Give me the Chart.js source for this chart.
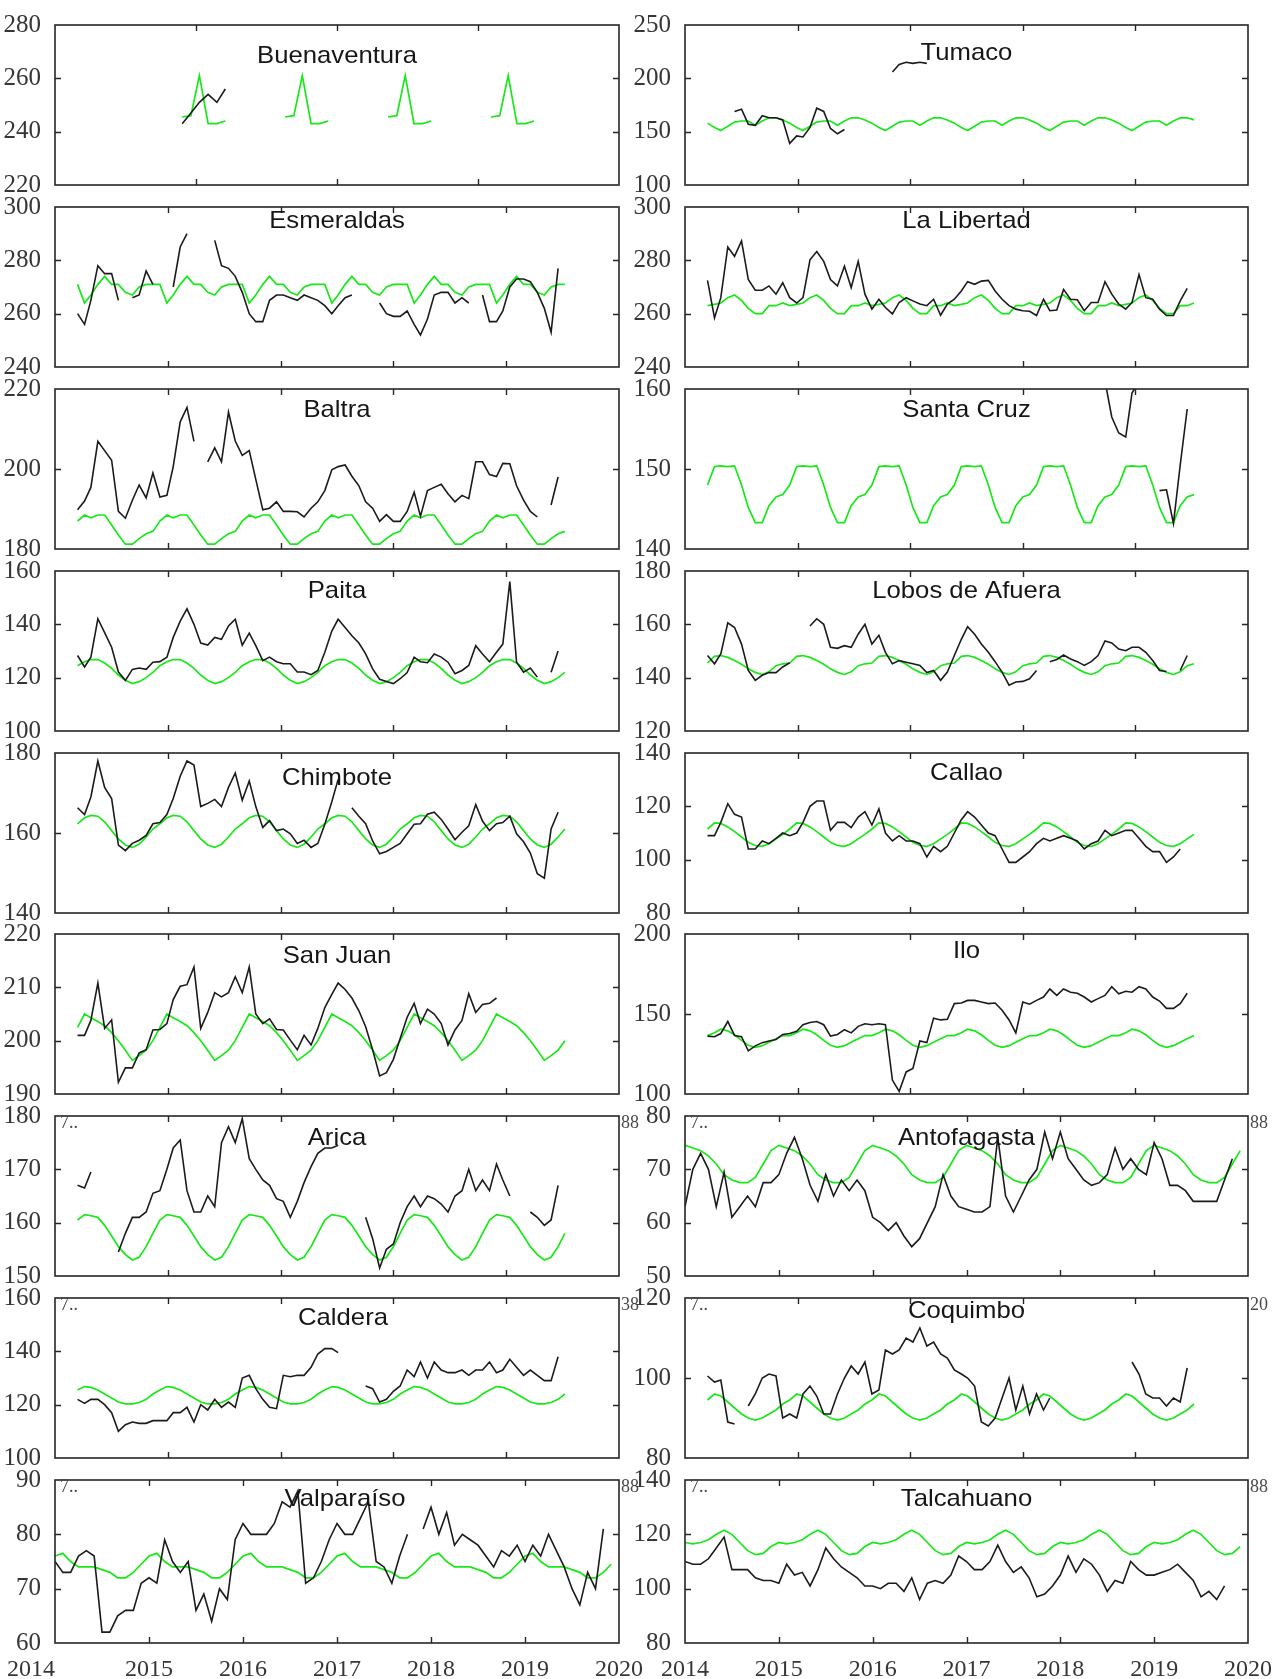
<!DOCTYPE html>
<html lang="es">
<head>
<meta charset="utf-8">
<title>Nivel medio mensual del mar</title>
<script src="https://cdn.jsdelivr.net/npm/chart.js@4.4.1/dist/chart.umd.min.js"></script>
<style>
  html, body { margin: 0; padding: 0; background: #ffffff; }
  body { position: relative; width: 1272px; height: 1679px; overflow: hidden; }
  canvas { position: absolute; }
</style>
</head>
<body>
<script>
// Monthly sea level per tide gauge. Month index 0 = January 2014; null = missing month.
// "Obs" = observed monthly mean (black), "Clim" = mean seasonal cycle (green).

const yearLabels = [2014, 2015, 2016, 2017, 2018, 2019, 2020];

// ---- Buenaventura ----
const buenaventuraY = [220, 280, 20];
const buenaventuraObsStart = 28;
const buenaventuraObs = [243, 247, 251, 254, 251, 256];
const buenaventuraClimStart = 28;
const buenaventuraClim = [
  245.5, 246, 261, 243, 243, 244, null, null, null, null, null, null,
  245.5, 246, 261, 243, 243, 244, null, null, null, null, null, null,
  245.5, 246, 261, 243, 243, 244, null, null, null, null, null, null,
  245.5, 246, 261, 243, 243, 244];

// ---- Tumaco ----
const tumacoY = [100, 250, 50];
const tumacoObsStart = 4;
const tumacoObs = [169, 171, 157, 156, 165, 163, 163, 161, 139, 146, 145, 154, 172, 169, 153, 148, 152,
  null, null, null, null, null, null, 206, 213, 215, 214, 215, 214];
const tumacoClimStart = 0;
const tumacoClim = [
  158, 154, 151, 155, 159, 160, 160, 156, 160, 163, 163, 161,
  158, 154, 151, 155, 159, 160, 160, 156, 160, 163, 163, 161,
  158, 154, 151, 155, 159, 160, 160, 156, 160, 163, 163, 161,
  158, 154, 151, 155, 159, 160, 160, 156, 160, 163, 163, 161,
  158, 154, 151, 155, 159, 160, 160, 156, 160, 163, 163, 161,
  158, 154, 151, 155, 159, 160, 160, 156, 160, 163, 163, 161];

// ---- Esmeraldas ----
const esmeraldasY = [240, 300, 20];
const esmeraldasObsStart = 0;
const esmeraldasObs = [
  260, 256, 265, 278, 275, 275, 265, null, 266, 267, 276, 271, null, null, 270, 285, 290, null, null, null,
  287.5, 278, 277, 274, 268, 260, 257, 257, 265, 267, 267, 266, 265, 267, 266, 265, 263, 260, 263, 266, 267,
  null, null, null,
  264, 260, 259, 259, 261, 256, 252, 258, 267, 268, 268, 264, 266, 264,
  null,
  267, 257, 257, 261, 270, 273, 273, 272, 268, 262, 253, 277];
const esmeraldasClimStart = 0;
const esmeraldasClim = [
  271, 264, 267, 271, 274, 271, 271, 268, 267, 270, 271, 271,
  271, 264, 267, 271, 274, 271, 271, 268, 267, 270, 271, 271,
  271, 264, 267, 271, 274, 271, 271, 268, 267, 270, 271, 271,
  271, 264, 267, 271, 274, 271, 271, 268, 267, 270, 271, 271,
  271, 264, 267, 271, 274, 271, 271, 268, 267, 270, 271, 271,
  271, 264, 267, 271, 274, 271, 271, 268, 267, 270, 271, 271];

// ---- La Libertad ----
const laLibertadY = [240, 300, 20];
const laLibertadObsStart = 0;
const laLibertadObs = [
  272.5, 258.4, 266, 285, 281.5, 287.3, 272.8, 268.8, 268.8, 270.4,
  267.3, 271.6, 266, 264, 266, 280.2, 283.3, 279.6, 272.8, 270.4,
  277.8, 269.8, 279.6, 267.3, 261.7, 265.4, 262.3, 259.9, 264.2, 266,
  264.8, 263.6, 263, 265.4, 259.4, 263.6, 265.4, 268.5, 272, 271,
  272.2, 272.5, 268.5, 265.4, 263, 261.7, 261.1, 260.9, 259.3, 265.4,
  261.1, 261.4, 269.1, 265.4, 265.2, 261.1, 264.2, 264.2, 272, 267.3,
  263.6, 261.7, 264.2, 274.7, 266, 265.4, 261.7, 259.3, 259.3, 264.8,
  269.5];
const laLibertadClimStart = 0;
const laLibertadClim = [
  263, 263.5, 264, 266, 267, 265, 262, 260, 260, 263, 263, 264,
  263, 263.5, 264, 266, 267, 265, 262, 260, 260, 263, 263, 264,
  263, 263.5, 264, 266, 267, 265, 262, 260, 260, 263, 263, 264,
  263, 263.5, 264, 266, 267, 265, 262, 260, 260, 263, 263, 264,
  263, 263.5, 264, 266, 267, 265, 262, 260, 260, 263, 263, 264,
  263, 263.5, 264, 266, 267, 265, 262, 260, 260, 263, 263, 264];

// ---- Baltra ----
const baltraY = [180, 220, 20];
const baltraObsStart = 0;
const baltraObs = [
  189.8, 192, 195.4, 206.9, 204.6, 202.2, 189.4, 187.7, 192.2, 196,
  192.8, 199, 193, 193.4, 200.6, 211.8, 215.4, 206.9, null,
  201.8, 205.3, 201.8, 214.2, 207, 203.4, 204.6, 197.4, 189.8, 190.2,
  191.8, 189.4, 189.4, 189.3, 188, 190.2, 191.8, 194.6, 199.8, 200.6,
  201, 198.2, 195.8, 191.8, 190.2, 186.9, 188.6, 186.9, 186.9, 189.4,
  194.2, 188.2, 194.6, 195.4, 196.2, 193.8, 191.8, 193.4, 192.6, 201.8,
  201.8, 198.6, 198.1, 201.4, 201.3, 195.8, 192.2, 189.4, 188,
  null, 191, 198];
const baltraClimStart = 0;
const baltraClim = [
  187, 188.5, 187.8, 188.5, 188.5, 186, 183.5, 181.2, 181.2, 182.6, 183.8, 184.4,
  187, 188.5, 187.8, 188.5, 188.5, 186, 183.5, 181.2, 181.2, 182.6, 183.8, 184.4,
  187, 188.5, 187.8, 188.5, 188.5, 186, 183.5, 181.2, 181.2, 182.6, 183.8, 184.4,
  187, 188.5, 187.8, 188.5, 188.5, 186, 183.5, 181.2, 181.2, 182.6, 183.8, 184.4,
  187, 188.5, 187.8, 188.5, 188.5, 186, 183.5, 181.2, 181.2, 182.6, 183.8, 184.4,
  187, 188.5, 187.8, 188.5, 188.5, 186, 183.5, 181.2, 181.2, 182.6, 183.8, 184.4];

// ---- Santa Cruz ----
const santaCruzY = [140, 160, 10];
const santaCruzObsStart = 58;
const santaCruzObs = [161, 156.5, 154.5, 154, 159.5, 161, null, null, 147.3, 147.4, 143.2, 150.5, 157.5];
const santaCruzClimStart = 0;
const santaCruzClim = [
  148, 150.3, 150.4, 150.3, 150.4, 148, 145.2, 143.3, 143.3, 145.4, 146.5, 146.8,
  148, 150.3, 150.4, 150.3, 150.4, 148, 145.2, 143.3, 143.3, 145.4, 146.5, 146.8,
  148, 150.3, 150.4, 150.3, 150.4, 148, 145.2, 143.3, 143.3, 145.4, 146.5, 146.8,
  148, 150.3, 150.4, 150.3, 150.4, 148, 145.2, 143.3, 143.3, 145.4, 146.5, 146.8,
  148, 150.3, 150.4, 150.3, 150.4, 148, 145.2, 143.3, 143.3, 145.4, 146.5, 146.8,
  148, 150.3, 150.4, 150.3, 150.4, 148, 145.2, 143.3, 143.3, 145.4, 146.5, 146.8];

// ---- Paita ----
const paitaY = [100, 160, 20];
const paitaObsStart = 0;
const paitaObs = [
  128.3, 124, 127.7, 142.1, 136.9, 131.4, 122.1, 119, 123.1, 123.6,
  123.1, 125.8, 126, 127.7, 135.1, 141.2, 145.8, 140, 133, 132.2,
  135.1, 134.4, 139.4, 141.9, 132.2, 136.7, 132, 126.4, 127.7, 126,
  125.2, 125.2, 122.1, 122.1, 121.1, 122.7, 129.5, 137.5, 141.9, 138.8,
  135.7, 133, 128.9, 123.3, 119.4, 118.6, 117.8, 119.6, 121.9, 127.7,
  126, 125.6, 128.9, 127.7, 125.8, 121.5, 122.7, 124.6, 132, 128.9,
  126, 129.5, 132.6, 156, 125.8, 122.1, 123.6, 120.2,
  null, 122, 130];
const paitaClimStart = 0;
const paitaClim = [
  124.5, 126, 126.8, 126.8, 125.5, 123.5, 121, 119, 117.8, 118.5, 120, 122,
  124.5, 126, 126.8, 126.8, 125.5, 123.5, 121, 119, 117.8, 118.5, 120, 122,
  124.5, 126, 126.8, 126.8, 125.5, 123.5, 121, 119, 117.8, 118.5, 120, 122,
  124.5, 126, 126.8, 126.8, 125.5, 123.5, 121, 119, 117.8, 118.5, 120, 122,
  124.5, 126, 126.8, 126.8, 125.5, 123.5, 121, 119, 117.8, 118.5, 120, 122,
  124.5, 126, 126.8, 126.8, 125.5, 123.5, 121, 119, 117.8, 118.5, 120, 122];

// ---- Lobos de Afuera ----
const lobosY = [120, 180, 20];
const lobosObsStart = 0;
const lobosObs = [
  148.3, 145.2, 148.9, 160.6, 158.8, 152.6, 142.7, 139, 140.9, 141.9, 141.9, 144, 145.6,
  null, null,
  159.4, 162.1, 160, 151.4, 151, 152, 151.4, 156.3, 160, 152.6,
  155.9, 149.5, 145.2, 146.4, 145.8, 145.2, 144.6, 141.9, 142.7, 139,
  142.1, 148.3, 154.4, 159.1, 156.3, 152.6, 149.5, 146, 142.1, 137.2,
  138.4, 138.6, 139.6, 142.7,
  null,
  146, 146.8, 148.5, 147, 146, 144.6, 146, 148.3, 153.8, 153,
  150.7, 150.1, 151.4, 151.4, 149.5, 146.4, 142.7, 142.3,
  null, 142.7, 148.3];
const lobosClimStart = 0;
const lobosClim = [
  145.5, 148, 148.3, 147.6, 146.4, 145, 143.3, 142, 141.2, 142.2, 144.5, 145.2,
  145.5, 148, 148.3, 147.6, 146.4, 145, 143.3, 142, 141.2, 142.2, 144.5, 145.2,
  145.5, 148, 148.3, 147.6, 146.4, 145, 143.3, 142, 141.2, 142.2, 144.5, 145.2,
  145.5, 148, 148.3, 147.6, 146.4, 145, 143.3, 142, 141.2, 142.2, 144.5, 145.2,
  145.5, 148, 148.3, 147.6, 146.4, 145, 143.3, 142, 141.2, 142.2, 144.5, 145.2,
  145.5, 148, 148.3, 147.6, 146.4, 145, 143.3, 142, 141.2, 142.2, 144.5, 145.2];

// ---- Chimbote ----
const chimboteY = [140, 180, 20];
const chimboteObsStart = 0;
const chimboteObs = [
  166.3, 164.6, 169, 178, 171.4, 168.6, 157, 155.6, 157.4, 158.2,
  159.4, 162.3, 162.6, 164.6, 168.6, 174.2, 178, 177, 166.6, 167.4,
  168.4, 166.6, 171.4, 175, 168.2, 173, 166.6, 161.4, 163.1, 160.6,
  161, 159.8, 157.4, 158.2, 156.4, 157.4, 162.2, 167.8, 173.4,
  null,
  166.3, 164.2, 162.3, 158, 154.8, 155.4, 156.4, 157.4, 159.8, 162.2,
  162.3, 164.7, 165.2, 163.4, 161, 158.3, 160.2, 161.8, 167.1, 163,
  160.6, 162.3, 162.6, 164.2, 159.8, 157.8, 155, 149.8, 148.7, 161,
  165.2];
const chimboteClimStart = 0;
const chimboteClim = [
  162.3, 163.8, 164.4, 164.2, 162.8, 160.6, 158.5, 157, 156.4, 157.2, 159, 161,
  162.3, 163.8, 164.4, 164.2, 162.8, 160.6, 158.5, 157, 156.4, 157.2, 159, 161,
  162.3, 163.8, 164.4, 164.2, 162.8, 160.6, 158.5, 157, 156.4, 157.2, 159, 161,
  162.3, 163.8, 164.4, 164.2, 162.8, 160.6, 158.5, 157, 156.4, 157.2, 159, 161,
  162.3, 163.8, 164.4, 164.2, 162.8, 160.6, 158.5, 157, 156.4, 157.2, 159, 161,
  162.3, 163.8, 164.4, 164.2, 162.8, 160.6, 158.5, 157, 156.4, 157.2, 159, 161];

// ---- Callao ----
const callaoY = [80, 140, 20];
const callaoObsStart = 0;
const callaoObs = [
  109, 109, 114, 121, 117, 116, 104, 104, 107, 106,
  108, 110, 109, 110, 114, 120, 122, 122, 111, 114,
  114, 112, 116, 118, 113, 119, 110, 107, 109, 107,
  107, 106, 101, 105, 103, 105, 110, 115, 118, 116,
  113, 110, 109, 104, 99, 99, 101, 103, 106, 108,
  107, 108, 109, 108, 107, 104, 106, 107, 111, 109,
  110, 111, 111, 108, 105, 103, 103, 99, 101, 104];
const callaoClimStart = 0;
const callaoClim = [
  111.5, 113.8, 113.6, 112.3, 110.5, 108.5, 106.5, 105.3, 105, 106, 107.8, 109.5,
  111.5, 113.8, 113.6, 112.3, 110.5, 108.5, 106.5, 105.3, 105, 106, 107.8, 109.5,
  111.5, 113.8, 113.6, 112.3, 110.5, 108.5, 106.5, 105.3, 105, 106, 107.8, 109.5,
  111.5, 113.8, 113.6, 112.3, 110.5, 108.5, 106.5, 105.3, 105, 106, 107.8, 109.5,
  111.5, 113.8, 113.6, 112.3, 110.5, 108.5, 106.5, 105.3, 105, 106, 107.8, 109.5,
  111.5, 113.8, 113.6, 112.3, 110.5, 108.5, 106.5, 105.3, 105, 106, 107.8, 109.5];

// ---- San Juan ----
const sanJuanY = [190, 220, 10];
const sanJuanObsStart = 0;
const sanJuanObs = [
  201, 201, 203.8, 210.8, 202.3, 203.9, 192.2, 194.9, 194.9, 197.7,
  198.3, 202, 202.1, 203.2, 207.7, 210.2, 210.5, 213.8, 202.3, 205.3,
  209, 208.2, 209, 212, 209, 213.8, 205, 203.2, 204.1, 202.1,
  202, 200.1, 198.3, 201, 199.2, 202.3, 206.2, 208.7, 210.8, 209.6,
  208, 205.6, 202.6, 198.3, 193.4, 194, 196.5, 200.4, 204.4, 207,
  203.2, 205.9, 205, 203.2, 199.2, 202, 203.8, 208.8, 205.3, 206.8,
  207, 208];
const sanJuanClimStart = 0;
const sanJuanClim = [
  202.5, 205, 204.3, 203.6, 202.8, 201.5, 200, 198.2, 196.3, 197.2, 198.2, 200,
  202.5, 205, 204.3, 203.6, 202.8, 201.5, 200, 198.2, 196.3, 197.2, 198.2, 200,
  202.5, 205, 204.3, 203.6, 202.8, 201.5, 200, 198.2, 196.3, 197.2, 198.2, 200,
  202.5, 205, 204.3, 203.6, 202.8, 201.5, 200, 198.2, 196.3, 197.2, 198.2, 200,
  202.5, 205, 204.3, 203.6, 202.8, 201.5, 200, 198.2, 196.3, 197.2, 198.2, 200,
  202.5, 205, 204.3, 203.6, 202.8, 201.5, 200, 198.2, 196.3, 197.2, 198.2, 200];

// ---- Ilo ----
const iloY = [100, 200, 50];
const iloObsStart = 0;
const iloObs = [
  136.2, 135.8, 137.8, 145.3, 136.6, 135.8, 127, 130.1, 132.1, 133.1,
  134.1, 137.2, 137.8, 139.2, 143.3, 144.7, 145.3, 143.3, 136.2, 137.2,
  140.2, 138.2, 142.3, 143.9, 143.3, 143.9, 143.3, 108.7, 101.6, 113.8,
  115.9, 133.1, 132.1, 147.4, 146.3, 146.7, 156.5, 156.9, 158.5, 158.5,
  157.5, 156.5, 156.9, 152.4, 146.3, 138.2, 157.5, 156.1, 158.5, 160.6,
  165.6, 161.6, 165.6, 163.6, 163, 160.6, 157.5, 159.6, 161.6, 167.1,
  162.6, 164.2, 163.6, 167.1, 165.6, 160.6, 158.1, 153.5, 153.5, 156.5,
  163];
const iloClimStart = 0;
const iloClim = [
  136.5, 138.3, 140.5, 139.5, 137, 133.5, 130.5, 129.2, 130.2, 132.3, 134.5, 136.5,
  136.5, 138.3, 140.5, 139.5, 137, 133.5, 130.5, 129.2, 130.2, 132.3, 134.5, 136.5,
  136.5, 138.3, 140.5, 139.5, 137, 133.5, 130.5, 129.2, 130.2, 132.3, 134.5, 136.5,
  136.5, 138.3, 140.5, 139.5, 137, 133.5, 130.5, 129.2, 130.2, 132.3, 134.5, 136.5,
  136.5, 138.3, 140.5, 139.5, 137, 133.5, 130.5, 129.2, 130.2, 132.3, 134.5, 136.5,
  136.5, 138.3, 140.5, 139.5, 137, 133.5, 130.5, 129.2, 130.2, 132.3, 134.5, 136.5];

// ---- Arica ----
const aricaY = [150, 180, 10];
const aricaObsStart = 0;
const aricaObs = [
  167, 166.5, 169.5, null, null, null,
  154.5, 158, 161, 161, 162, 165.5, 166, 170, 174, 175.5,
  166, 162, 162, 165, 163, 175, 178, 175, 179.5, 172,
  170, 168, 167, 164.5, 164, 161, 164, 167.5, 170.5, 173,
  174, 174, 174.5,
  null, null, null,
  161, 157, 151.5, 155, 156, 160, 163, 165, 163, 165,
  164.5, 163.5, 162, 165, 166, 170, 166, 168, 166, 171,
  168, 165,
  null, null,
  162, 161, 159.5, 160.5, 167];
const aricaClimStart = 0;
const aricaClim = [
  160.5, 161.5, 161.3, 161, 159.5, 157.5, 155.5, 154, 153, 153.5, 155.5, 158,
  160.5, 161.5, 161.3, 161, 159.5, 157.5, 155.5, 154, 153, 153.5, 155.5, 158,
  160.5, 161.5, 161.3, 161, 159.5, 157.5, 155.5, 154, 153, 153.5, 155.5, 158,
  160.5, 161.5, 161.3, 161, 159.5, 157.5, 155.5, 154, 153, 153.5, 155.5, 158,
  160.5, 161.5, 161.3, 161, 159.5, 157.5, 155.5, 154, 153, 153.5, 155.5, 158,
  160.5, 161.5, 161.3, 161, 159.5, 157.5, 155.5, 154, 153, 153.5, 155.5, 158];

// ---- Antofagasta ----
const antofagastaY = [50, 80, 10];
const antofagastaObsStart = 0;
const antofagastaObs = [
  63, 70, 73, 70, 63, 69.5, 61, 63, 65, 63,
  67.5, 67.5, 69, 73, 76, 72, 67, 64, 69, 65,
  68, 66, 68, 66, 61, 60, 58.5, 60, 57.5, 55.5,
  57, 60, 63, 69, 65, 63, 62.5, 62, 62, 63,
  76, 65, 62, 65, 68, 70, 77, 72, 77, 72,
  70, 68, 67, 67.5, 69, 74, 70, 72, 70, 69,
  75, 72, 67, 67, 66, 64, 64, 64, 64, 68, 72];
const antofagastaClimStart = 0;
const antofagastaClim = [
  74.5, 74, 73.5, 72.5, 71, 69, 68, 67.5, 67.5, 68.5, 71, 73.5,
  74.5, 74, 73.5, 72.5, 71, 69, 68, 67.5, 67.5, 68.5, 71, 73.5,
  74.5, 74, 73.5, 72.5, 71, 69, 68, 67.5, 67.5, 68.5, 71, 73.5,
  74.5, 74, 73.5, 72.5, 71, 69, 68, 67.5, 67.5, 68.5, 71, 73.5,
  74.5, 74, 73.5, 72.5, 71, 69, 68, 67.5, 67.5, 68.5, 71, 73.5,
  74.5, 74, 73.5, 72.5, 71, 69, 68, 67.5, 67.5, 68.5, 71, 73.5];

// ---- Caldera ----
const calderaY = [100, 160, 20];
const calderaObsStart = 0;
const calderaObs = [
  122, 120.5, 122, 122, 120, 117, 110, 112.5, 113.5, 113,
  113, 114, 114, 114, 117, 117, 119, 113.5, 120, 118,
  122, 119, 121, 119, 130, 131, 126, 122, 119, 118.5,
  131, 130.5, 131, 131, 134, 139, 141, 141, 139.5,
  null, null, null,
  127, 126, 121, 122, 125, 127, 133, 130.5, 136, 130,
  136, 133, 132, 132, 133, 131, 133, 133, 136, 132,
  133, 137, 134, 131, 133, 131, 129, 129, 138];
const calderaClimStart = 0;
const calderaClim = [
  125.5, 126.8, 126.5, 125.5, 124, 122.5, 121, 120.3, 120.3, 120.8, 122, 124,
  125.5, 126.8, 126.5, 125.5, 124, 122.5, 121, 120.3, 120.3, 120.8, 122, 124,
  125.5, 126.8, 126.5, 125.5, 124, 122.5, 121, 120.3, 120.3, 120.8, 122, 124,
  125.5, 126.8, 126.5, 125.5, 124, 122.5, 121, 120.3, 120.3, 120.8, 122, 124,
  125.5, 126.8, 126.5, 125.5, 124, 122.5, 121, 120.3, 120.3, 120.8, 122, 124,
  125.5, 126.8, 126.5, 125.5, 124, 122.5, 121, 120.3, 120.3, 120.8, 122, 124];

// ---- Coquimbo ----
const coquimboY = [80, 120, 20];
const coquimboObsStart = 0;
const coquimboObs = [
  100.5, 99, 99.5, 89, 88.5, null,
  93, 96, 100, 101, 100.5, 90, 91, 90, 96, 98,
  95.5, 91, 91, 96, 100, 103, 101, 104, 96, 97,
  107, 106, 107, 110, 109, 112.5, 108, 109, 106, 105,
  102, 101, 100, 98, 89, 88, 90, 95, 100, 92,
  98, 91, 96, 92, 95,
  null, null, null, null, null, null, null, null, null, null, null,
  104, 101, 96, 95, 95, 93, 95, 94, 102.5];
const coquimboClimStart = 0;
const coquimboClim = [
  94.5, 96, 95.5, 94, 92.5, 91, 90, 89.5, 90, 91, 92, 93.5,
  94.5, 96, 95.5, 94, 92.5, 91, 90, 89.5, 90, 91, 92, 93.5,
  94.5, 96, 95.5, 94, 92.5, 91, 90, 89.5, 90, 91, 92, 93.5,
  94.5, 96, 95.5, 94, 92.5, 91, 90, 89.5, 90, 91, 92, 93.5,
  94.5, 96, 95.5, 94, 92.5, 91, 90, 89.5, 90, 91, 92, 93.5,
  94.5, 96, 95.5, 94, 92.5, 91, 90, 89.5, 90, 91, 92, 93.5];

// ---- Valparaíso ----
const valparaisoY = [60, 90, 10];
const valparaisoObsStart = 0;
const valparaisoObs = [
  75, 73, 73, 76, 77, 76, 62, 62, 65, 66,
  66, 71, 72, 71, 79, 75, 73, 75, 66, 69,
  64, 70, 68, 79, 82, 80, 80, 80, 82, 86,
  85, 88, 71, 72, 75, 79, 82, 80, 80, 83,
  86, 75, 74, 71, 76, 80, null,
  81, 85, 80, 84, 78, 80, 79, 78, 76, 74,
  77, 76, 78, 75, 78, 76, 80, 77, 74, 70,
  67, 73, 70, 81];
const valparaisoClimStart = 0;
const valparaisoClim = [
  76, 76.5, 75, 74, 74, 74, 73.5, 73, 72, 72, 73, 74.5,
  76, 76.5, 75, 74, 74, 74, 73.5, 73, 72, 72, 73, 74.5,
  76, 76.5, 75, 74, 74, 74, 73.5, 73, 72, 72, 73, 74.5,
  76, 76.5, 75, 74, 74, 74, 73.5, 73, 72, 72, 73, 74.5,
  76, 76.5, 75, 74, 74, 74, 73.5, 73, 72, 72, 73, 74.5,
  76, 76.5, 75, 74, 74, 74, 73.5, 73, 72, 72, 73, 74.5];

// ---- Talcahuano ----
const talcahuanoY = [80, 140, 20];
const talcahuanoObsStart = 0;
const talcahuanoObs = [
  110, 109, 109, 111, 115, 119, 107, 107, 107, 104,
  103, 103, 102, 109, 105, 106, 101, 107, 115, 111,
  108, 106, 104, 101, 101, 100, 102, 102, 99, 104,
  96, 102, 103, 102, 105, 112, 110, 107, 107, 110,
  116, 110, 106, 108, 104, 97, 98, 101, 105, 112,
  106, 111, 109, 105, 99, 103, 102, 110, 107, 105,
  105, 106, 107, 109, 106, 103, 97, 99, 96, 101];
const talcahuanoClimStart = 0;
const talcahuanoClim = [
  117, 116.5, 117, 118, 120, 121.5, 120, 117, 114, 112.5, 113, 115.5,
  117, 116.5, 117, 118, 120, 121.5, 120, 117, 114, 112.5, 113, 115.5,
  117, 116.5, 117, 118, 120, 121.5, 120, 117, 114, 112.5, 113, 115.5,
  117, 116.5, 117, 118, 120, 121.5, 120, 117, 114, 112.5, 113, 115.5,
  117, 116.5, 117, 118, 120, 121.5, 120, 117, 114, 112.5, 113, 115.5,
  117, 116.5, 117, 118, 120, 121.5, 120, 117, 114, 112.5, 113, 115.5];

// ---------------------------------------------------------------------------
// Time axes: "days" counts days from 23 Sep 2013 (ticks every 500 days),
// "years" is a plain decimal-year axis.
const dayOrigin = Date.UTC(2013, 8, 23);
const monthToDay = m => (Date.UTC(2014, m, 1) - dayOrigin) / 86400000;
const monthToYear = m => 2014 + m / 12;

const dayAxis = { min: 0, max: 2500, step: 500, toX: monthToDay };
const shortDayAxis = { min: 500, max: 2500, step: 500, toX: monthToDay };
const yearAxis = { min: 2014, max: 2020, step: 1, toX: monthToYear };

// Panel grid (pixel frame of each plot box)
const colLeft = [55, 685];
const colWidth = [564, 563];
const rowTop = [22, 204, 386, 568, 750, 931, 1113, 1295, 1477];
const boxHeight = 166;

// Stray axis-label fragments peeking out at the top corners of the lower boxes
const strayTopLeft = { 6: '7..', 7: '7..', 8: '7..' };
const strayTopRight = { 6: ['88', '88'], 7: ['38', '20'], 8: ['88', '88'] };

const panels = [
  { title: 'Buenaventura', row: 0, col: 0, y: buenaventuraY, axis: shortDayAxis, obs: buenaventuraObs, obsStart: buenaventuraObsStart, clim: buenaventuraClim, climStart: buenaventuraClimStart, dy: 31 },
  { title: 'Tumaco', row: 0, col: 1, y: tumacoY, axis: dayAxis, obs: tumacoObs, obsStart: tumacoObsStart, clim: tumacoClim, climStart: tumacoClimStart, dy: 28 },
  { title: 'Esmeraldas', row: 1, col: 0, y: esmeraldasY, axis: dayAxis, obs: esmeraldasObs, obsStart: esmeraldasObsStart, clim: esmeraldasClim, climStart: esmeraldasClimStart, dy: 14 },
  { title: 'La Libertad', row: 1, col: 1, y: laLibertadY, axis: dayAxis, obs: laLibertadObs, obsStart: laLibertadObsStart, clim: laLibertadClim, climStart: laLibertadClimStart, dy: 14 },
  { title: 'Baltra', row: 2, col: 0, y: baltraY, axis: dayAxis, obs: baltraObs, obsStart: baltraObsStart, clim: baltraClim, climStart: baltraClimStart, dy: 21 },
  { title: 'Santa Cruz', row: 2, col: 1, y: santaCruzY, axis: dayAxis, obs: santaCruzObs, obsStart: santaCruzObsStart, clim: santaCruzClim, climStart: santaCruzClimStart, dy: 21 },
  { title: 'Paita', row: 3, col: 0, y: paitaY, axis: dayAxis, obs: paitaObs, obsStart: paitaObsStart, clim: paitaClim, climStart: paitaClimStart, dy: 20 },
  { title: 'Lobos de Afuera', row: 3, col: 1, y: lobosY, axis: dayAxis, obs: lobosObs, obsStart: lobosObsStart, clim: lobosClim, climStart: lobosClimStart, dy: 20 },
  { title: 'Chimbote', row: 4, col: 0, y: chimboteY, axis: dayAxis, obs: chimboteObs, obsStart: chimboteObsStart, clim: chimboteClim, climStart: chimboteClimStart, dy: 25 },
  { title: 'Callao', row: 4, col: 1, y: callaoY, axis: dayAxis, obs: callaoObs, obsStart: callaoObsStart, clim: callaoClim, climStart: callaoClimStart, dy: 20 },
  { title: 'San Juan', row: 5, col: 0, y: sanJuanY, axis: dayAxis, obs: sanJuanObs, obsStart: sanJuanObsStart, clim: sanJuanClim, climStart: sanJuanClimStart, dy: 22 },
  { title: 'Ilo', row: 5, col: 1, y: iloY, axis: dayAxis, obs: iloObs, obsStart: iloObsStart, clim: iloClim, climStart: iloClimStart, dy: 17 },
  { title: 'Arica', row: 6, col: 0, y: aricaY, axis: dayAxis, obs: aricaObs, obsStart: aricaObsStart, clim: aricaClim, climStart: aricaClimStart, dy: 22 },
  { title: 'Antofagasta', row: 6, col: 1, y: antofagastaY, axis: yearAxis, obs: antofagastaObs, obsStart: antofagastaObsStart, clim: antofagastaClim, climStart: antofagastaClimStart, dy: 22 },
  { title: 'Caldera', row: 7, col: 0, y: calderaY, axis: dayAxis, obs: calderaObs, obsStart: calderaObsStart, clim: calderaClim, climStart: calderaClimStart, dy: 20, dx: 6 },
  { title: 'Coquimbo', row: 7, col: 1, y: coquimboY, axis: dayAxis, obs: coquimboObs, obsStart: coquimboObsStart, clim: coquimboClim, climStart: coquimboClimStart, dy: 13 },
  { title: 'Valparaíso', row: 8, col: 0, y: valparaisoY, axis: yearAxis, obs: valparaisoObs, obsStart: valparaisoObsStart, clim: valparaisoClim, climStart: valparaisoClimStart, dy: 19, dx: 8 },
  { title: 'Talcahuano', row: 8, col: 1, y: talcahuanoY, axis: yearAxis, obs: talcahuanoObs, obsStart: talcahuanoObsStart, clim: talcahuanoClim, climStart: talcahuanoClimStart, dy: 19 }
];

const serifFamily = '"Liberation Serif", "Times New Roman", serif';
const yTickFont = { family: serifFamily, size: 25 };
const xTickFont = { family: serifFamily, size: 24 };
const tickColor = '#363636';

// Box outline, inward tick marks, station name and stray corner labels
const boxPlugin = {
  id: 'boxFrame',
  afterDatasetsDraw(chart, args, opts) {
    const { ctx, chartArea: a, scales } = chart;
    const len = 6;
    ctx.save();
    ctx.strokeStyle = '#262626';
    ctx.lineWidth = 1.4;
    ctx.beginPath();
    scales.y.ticks.forEach(t => {
      if (t.value <= scales.y.min || t.value >= scales.y.max) return;
      const py = Math.round(scales.y.getPixelForValue(t.value)) + 0.5;
      ctx.moveTo(a.left, py); ctx.lineTo(a.left + len, py);
      ctx.moveTo(a.right, py); ctx.lineTo(a.right - len, py);
    });
    scales.x.ticks.forEach(t => {
      if (t.value <= scales.x.min || t.value >= scales.x.max) return;
      const px = Math.round(scales.x.getPixelForValue(t.value)) + 0.5;
      ctx.moveTo(px, a.bottom); ctx.lineTo(px, a.bottom - len);
      ctx.moveTo(px, a.top); ctx.lineTo(px, a.top + len);
    });
    ctx.stroke();
    ctx.lineWidth = 1.6;
    ctx.strokeRect(a.left, a.top, a.right - a.left, a.bottom - a.top);

    // station name, slightly widened like the original lettering
    ctx.save();
    ctx.translate((a.left + a.right) / 2 + (opts.dx || 0), a.top + opts.dy);
    ctx.scale(1.07, 1);
    ctx.fillStyle = '#161616';
    ctx.font = '24px "Liberation Sans", Arial, sans-serif';
    ctx.textAlign = 'center';
    ctx.textBaseline = 'middle';
    ctx.fillText(opts.text, 0, 0);
    ctx.restore();

    ctx.fillStyle = '#4a4a4a';
    ctx.font = '18px ' + serifFamily;
    ctx.textBaseline = 'middle';
    ctx.textAlign = 'left';
    if (opts.strayLeft) ctx.fillText(opts.strayLeft, a.left + 5, a.top + 7);
    if (opts.strayRight) ctx.fillText(opts.strayRight, a.right + 2, a.top + 7);
    ctx.restore();
  }
};

function toPoints(values, start, toX) {
  return values.map((v, i) => ({ x: toX(start + i), y: v }));
}

panels.forEach(p => {
  const padL = 60, padT = 18, padR = 30;
  const isBottom = p.row === rowTop.length - 1;
  const padB = isBottom ? 40 : 18;
  const w = padL + colWidth[p.col] + padR;
  const h = padT + boxHeight + padB;
  const cv = document.createElement('canvas');
  cv.width = w; cv.height = h;
  cv.style.left = (colLeft[p.col] - padL) + 'px';
  cv.style.top = (rowTop[p.row] - padT) + 'px';
  cv.style.width = w + 'px';
  cv.style.height = h + 'px';
  document.body.appendChild(cv);

  const xScale = {
    type: 'linear',
    min: p.axis.min, max: p.axis.max,
    display: isBottom,
    grid: { display: false },
    border: { display: false },
    ticks: {
      stepSize: p.axis.step,
      autoSkip: false,
      maxRotation: 0,
      padding: 4,
      font: xTickFont,
      color: tickColor,
      // the first year label on the left column sits left of its tick
      callback: v => {
        if (!yearLabels.includes(v)) return '';
        return (v === 2014 && p.col === 0) ? '2014\u2002\u2002\u2002\u2002' : String(v);
      }
    }
  };
  if (isBottom) xScale.afterFit = s => { s.height = padB; };

  new Chart(cv, {
    type: 'line',
    data: {
      datasets: [
        { data: toPoints(p.obs, p.obsStart, p.axis.toX), borderColor: '#1b1b1b', borderWidth: 1.6,
          pointRadius: 0, fill: false, spanGaps: false, tension: 0 },
        { data: toPoints(p.clim, p.climStart, p.axis.toX), borderColor: 'rgb(24,232,24)', borderWidth: 1.7,
          pointRadius: 0, fill: false, spanGaps: false, tension: 0 }
      ]
    },
    options: {
      responsive: false,
      animation: false,
      devicePixelRatio: 1,
      events: [],
      layout: { padding: { left: 0, top: padT, right: padR, bottom: isBottom ? 0 : padB } },
      plugins: {
        legend: { display: false },
        tooltip: { enabled: false },
        boxFrame: {
          text: p.title, dy: p.dy, dx: p.dx || 0,
          strayLeft: strayTopLeft[p.row] || null,
          strayRight: strayTopRight[p.row] ? strayTopRight[p.row][p.col] : null
        }
      },
      scales: {
        x: xScale,
        y: {
          type: 'linear',
          min: p.y[0], max: p.y[1],
          grid: { display: false },
          border: { display: false },
          ticks: { stepSize: p.y[2], padding: 6, font: yTickFont, color: tickColor },
          afterFit: s => { s.width = padL; }
        }
      }
    },
    plugins: [boxPlugin]
  });
});
</script>
</body>
</html>
